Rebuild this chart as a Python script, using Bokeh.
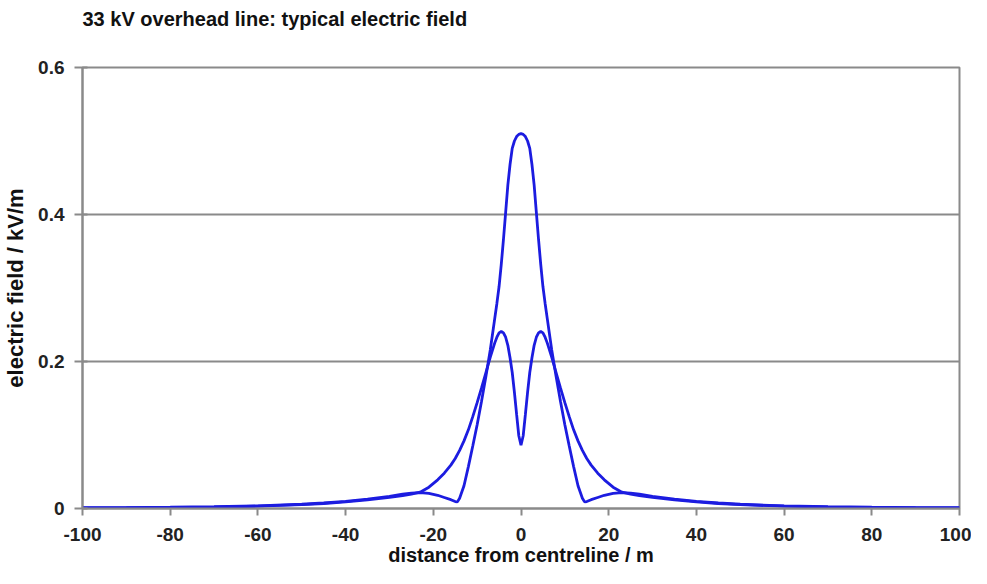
from bokeh.plotting import figure
from bokeh.models import Range1d, FixedTicker, Title
from bokeh.embed import file_html
from bokeh.resources import INLINE

# ---- data ----
x_single = [-100, -90, -80, -70, -60, -50, -45, -40, -35, -30, -27, -25, -23, -21, -19, -17.5,
            -16, -15, -14.5, -14, -13, -12, -11, -10, -9, -8, -7, -6, -5.5, -5, -4.5, -4, -3.5,
            -3, -2.5, -2, -1.5, -1, -0.5, 0,
            0.5, 1, 1.5, 2, 2.5, 3, 3.5, 4, 4.5, 5, 5.5, 6, 7, 8, 9, 10, 11, 12, 13, 14, 14.5,
            15, 16, 17.5, 19, 21, 23, 25, 27, 30, 35, 40, 45, 50, 60, 70, 80, 90, 100]
e_single = [0.0010, 0.0013, 0.0017, 0.0024, 0.0036, 0.0058, 0.0075, 0.0098, 0.0128, 0.0165,
            0.0195, 0.0210, 0.0215, 0.0205, 0.0180, 0.0150, 0.0120, 0.0095, 0.0090, 0.0140,
            0.0310, 0.0570, 0.0850, 0.1140, 0.1460, 0.1800, 0.2160, 0.2580, 0.2790, 0.3020,
            0.3320, 0.3660, 0.4030, 0.4400, 0.4680, 0.4900, 0.5000, 0.5060, 0.5090, 0.5100,
            0.5090, 0.5060, 0.5000, 0.4900, 0.4680, 0.4400, 0.4030, 0.3660, 0.3320, 0.3020,
            0.2790, 0.2580, 0.2160, 0.1800, 0.1460, 0.1140, 0.0850, 0.0570, 0.0310, 0.0140,
            0.0090, 0.0095, 0.0120, 0.0150, 0.0180, 0.0205, 0.0215, 0.0210, 0.0195, 0.0165,
            0.0128, 0.0098, 0.0075, 0.0058, 0.0036, 0.0024, 0.0017, 0.0013, 0.0010]

x_double = [-100, -90, -80, -70, -60, -50, -45, -40, -35, -30, -27, -25, -23, -21, -19, -17.5,
            -16, -15, -14, -13, -12, -11, -10, -9, -8, -7, -6, -5.5, -5, -4.5, -4, -3.5, -3,
            -2.5, -2, -1.5, -1, -0.5, 0,
            0.5, 1, 1.5, 2, 2.5, 3, 3.5, 4, 4.5, 5, 5.5, 6, 7, 8, 9, 10, 11, 12, 13, 14, 15,
            16, 17.5, 19, 21, 23, 25, 27, 30, 35, 40, 45, 50, 60, 70, 80, 90, 100]
e_double = [0.0008, 0.0010, 0.0014, 0.0020, 0.0031, 0.0053, 0.0068, 0.0090, 0.0118, 0.0150,
            0.0175, 0.0195, 0.0222, 0.0290, 0.0390, 0.0480, 0.0590, 0.0680, 0.0790, 0.0920,
            0.1070, 0.1250, 0.1440, 0.1640, 0.1850, 0.2060, 0.2250, 0.2330, 0.2390, 0.2410,
            0.2390, 0.2330, 0.2220, 0.2050, 0.1850, 0.1580, 0.1280, 0.0990, 0.0860,
            0.0990, 0.1280, 0.1580, 0.1850, 0.2050, 0.2220, 0.2330, 0.2390, 0.2410, 0.2390,
            0.2330, 0.2250, 0.2060, 0.1850, 0.1640, 0.1440, 0.1250, 0.1070, 0.0920, 0.0790,
            0.0680, 0.0590, 0.0480, 0.0390, 0.0290, 0.0222, 0.0195, 0.0175, 0.0150, 0.0118,
            0.0090, 0.0068, 0.0053, 0.0031, 0.0020, 0.0014, 0.0010, 0.0008]

x_ticks = [-100, -80, -60, -40, -20, 0, 20, 40, 60, 80, 100]
x_tick_labels = ["-100", "-80", "-60", "-40", "-20", "0", "20", "40", "60", "80", "100"]
y_ticks = [0, 0.2, 0.4, 0.6]
y_tick_labels = ["0", "0.2", "0.4", "0.6"]

title_text = "33 kV overhead line: typical electric field"
x_label = "distance from centreline / m"
y_label = "electric field / kV/m"

FONT = "Liberation Sans"
LINE_COLOR = "#1c1ce0"
GRAY = "#8a8a8a"

p = figure(width=971, height=568, output_backend="svg", toolbar_location=None,
           x_range=Range1d(-100, 100), y_range=Range1d(0, 0.6),
           min_border_left=75, min_border_right=12, min_border_top=0, min_border_bottom=0)

# spacer between frame and title (inner), then the real title (outer)
p.add_layout(Title(text=" ", text_font_size="10px", standoff=19, text_color="white"), "above")
p.title.text = title_text
p.title.text_font = FONT
p.title.text_font_size = "20px"
p.title.text_font_style = "bold"
p.title.text_color = "#111111"
p.title.align = "left"
p.title.standoff = 11

p.line(x_single, e_single, line_color=LINE_COLOR, line_width=2.8)
p.line(x_double, e_double, line_color=LINE_COLOR, line_width=2.8)

p.xaxis.ticker = FixedTicker(ticks=x_ticks)
p.yaxis.ticker = FixedTicker(ticks=y_ticks)
p.xaxis.major_label_overrides = {t: l for t, l in zip(x_ticks, x_tick_labels)}
p.yaxis.major_label_overrides = {t: l for t, l in zip(y_ticks, y_tick_labels)}

for ax in (p.xaxis[0], p.yaxis[0]):
    ax.axis_line_color = GRAY
    ax.axis_line_width = 2
    ax.major_tick_line_color = GRAY
    ax.major_tick_line_width = 2
    ax.minor_tick_line_color = None
    ax.major_label_text_font = FONT
    ax.major_label_text_font_size = "19px"
    ax.major_label_text_font_style = "bold"
    ax.major_label_text_color = "#222222"
    ax.axis_label_text_font = FONT
    ax.axis_label_text_font_style = "bold"
    ax.axis_label_text_color = "#111111"

p.xaxis.axis_label = x_label
p.yaxis.axis_label = y_label
p.xaxis.axis_label_text_font_size = "20px"
p.yaxis.axis_label_text_font_size = "22px"
p.xaxis.major_tick_in = 0
p.xaxis.major_tick_out = 7
p.yaxis.major_tick_in = 5
p.yaxis.major_tick_out = 8
p.xaxis.major_label_standoff = 12
p.yaxis.major_label_standoff = 10
p.xaxis.axis_label_standoff = 0
p.yaxis.axis_label_standoff = 7

p.xgrid.grid_line_color = None
p.ygrid.grid_line_color = GRAY
p.ygrid.grid_line_width = 2
p.outline_line_color = GRAY
p.outline_line_width = 2

p.background_fill_color = "white"
p.border_fill_color = "white"

open("out.html", "w").write(file_html(p, INLINE))
